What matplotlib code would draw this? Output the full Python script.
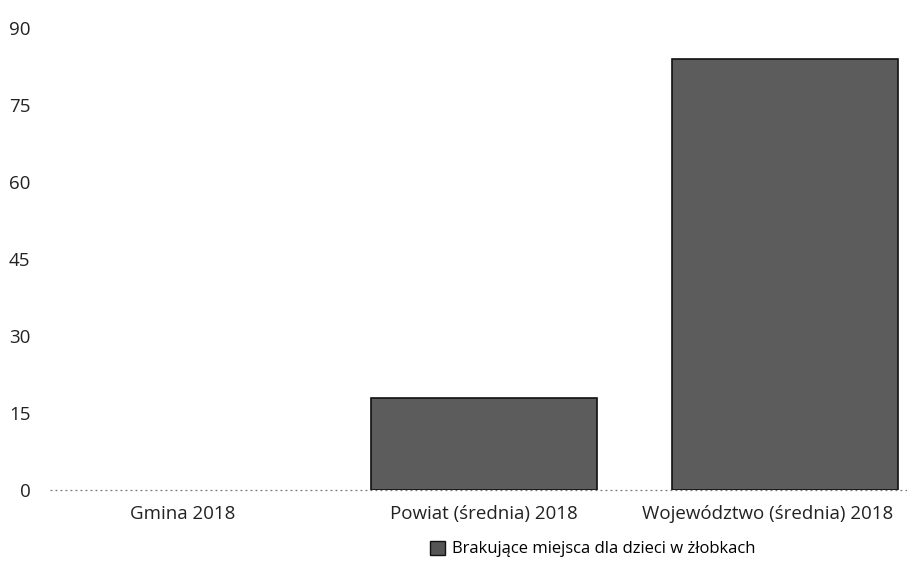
import matplotlib
matplotlib.use("Agg")
from matplotlib import pyplot as plt
from matplotlib.patches import Patch
from matplotlib.transforms import ScaledTranslation

kategorie = ["Gmina 2018", "Powiat (średnia) 2018", "Województwo (średnia) 2018"]
brakujace = [0, 18, 84]
y_ticki = [0, 15, 30, 45, 60, 75, 90]
legenda = "Brakujące miejsca dla dzieci w żłobkach"


def rysuj() -> None:
    plt.rcParams["font.family"] = ["Open Sans", "DejaVu Sans"]
    fig = plt.figure(figsize=(9.07, 5.71), dpi=100)
    ax = fig.add_axes([0.055, 0.142, 0.945, 0.809])

    pozycje = list(range(len(kategorie)))
    # zerowy slupek bez obramowania - widac tylko kropkowana linie
    grubosci = [1.2 if v > 0 else 0 for v in brakujace]
    ax.bar(pozycje, brakujace, width=0.75, color="#5c5c5c",
           edgecolor="#111111", linewidth=grubosci, zorder=3)
    ax.axhline(0, color="#777777", linestyle=(0, (1.5, 2.5)), linewidth=0.9,
               zorder=1, clip_on=False)

    ax.set_xlim(-0.442, 2.405)
    ax.set_ylim(0, 90)
    ax.set_yticks(y_ticki)
    ax.set_xticks(pozycje)
    ax.set_xticklabels(kategorie, fontsize=13.5)
    ax.tick_params(axis="both", length=0, colors="#222222")
    ax.tick_params(axis="y", labelsize=13.5, pad=14)
    ax.tick_params(axis="x", pad=11)
    for s in ax.spines.values():
        s.set_visible(False)

    # ostatni podpis przesuniety w lewo, zeby zmiescil sie w obrazku
    ostatni = ax.get_xticklabels()[-1]
    ostatni.set_transform(ostatni.get_transform()
                          + ScaledTranslation(-0.17, 0, fig.dpi_scale_trans))

    fig.legend(handles=[Patch(facecolor="#555555", edgecolor="#111111")],
               labels=[legenda], loc="center", frameon=False,
               bbox_to_anchor=(593 / 907, 1 - 549 / 571), fontsize=12,
               handlelength=0.9, handleheight=0.9, handletextpad=0.4)

    fig.savefig("out.png", dpi=100)


if __name__ == "__main__":
    rysuj()
